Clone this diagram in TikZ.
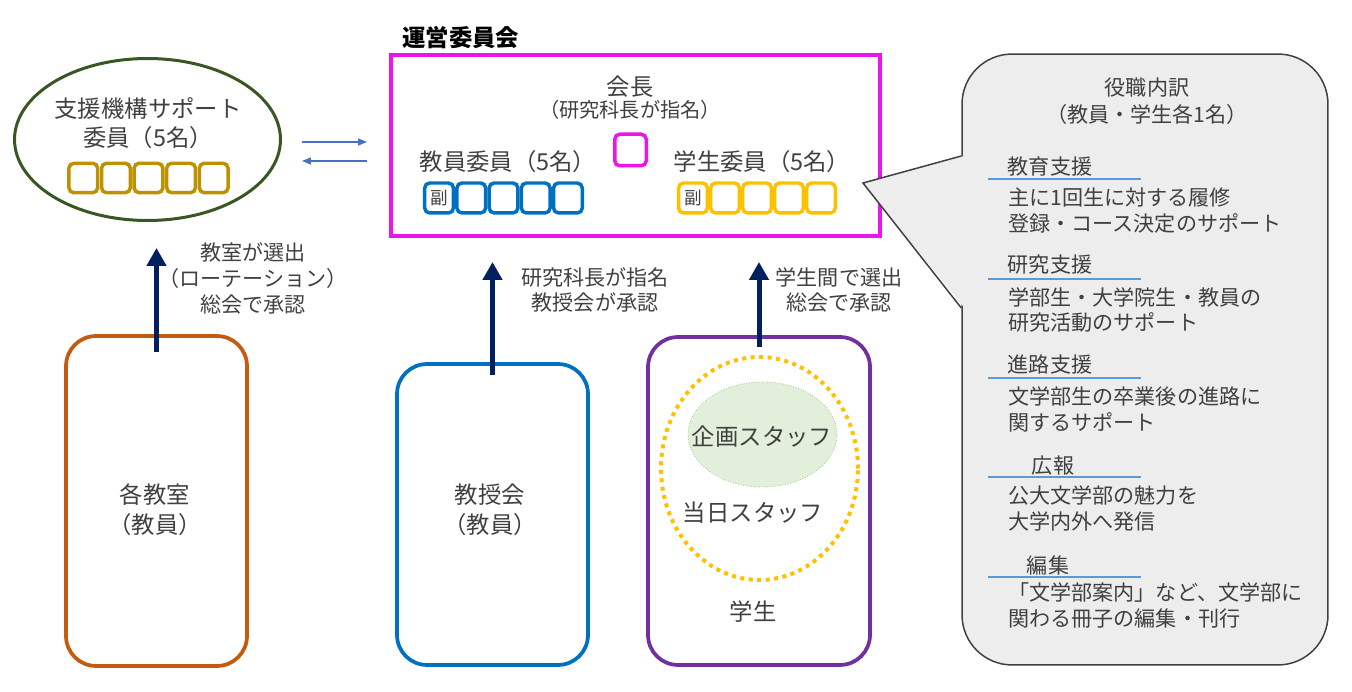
\documentclass[tikz,border=0pt]{standalone}
\usepackage{fontspec}
\setmainfont{Noto Sans CJK JP}
\usetikzlibrary{arrows.meta,shapes.geometric}

\definecolor{kanjigray}{HTML}{404040}
\definecolor{supportgreen}{RGB}{56,87,35}
\definecolor{goldbox}{HTML}{BF9000}
\definecolor{magentabox}{RGB}{235,20,235}
\definecolor{blueunit}{HTML}{0070C0}
\definecolor{yellowunit}{HTML}{FFC000}
\definecolor{orangeunit}{HTML}{C55A11}
\definecolor{purpleunit}{HTML}{7030A0}
\definecolor{navyarrow}{HTML}{002060}
\definecolor{linkblue}{HTML}{4472C4}
\definecolor{kikakufill}{HTML}{E2EFDA}
\definecolor{kikakuline}{HTML}{A9D08E}
\definecolor{calloutfill}{HTML}{EDEDED}
\definecolor{headblue}{HTML}{5B9BD5}

\newcommand{\szL}{\fontsize{13.3}{16.5}\selectfont}
\newcommand{\szM}{\fontsize{12}{14.4}\selectfont}
\newcommand{\szS}{\fontsize{11.5}{13.5}\selectfont}
\newcommand{\szT}{\fontsize{10}{12}\selectfont}

\begin{document}
\begin{tikzpicture}[x=0.02cm, y=-0.02cm,
		lbl/.style={text=kanjigray, inner sep=0pt, align=center},
		member/.style={draw=#1, line width=0.07cm, rounded corners=0.1cm, minimum width=0.575cm, minimum height=0.6cm, inner sep=0pt, text=kanjigray, font=\szT},
		unitbox/.style={draw=#1, line width=0.075cm, rounded corners=0.6cm, inner sep=0pt},
		uparrow/.style={draw=navyarrow, line width=0.1cm, -{Triangle[width=0.38cm,length=0.36cm]}},
		linkarrow/.style={draw=linkblue, line width=0.8pt, -{Triangle[width=0.14cm,length=0.18cm]}},
		headline/.style={draw=headblue, line width=0.04cm}]
		\useasboundingbox ( 0, 0 ) rectangle ( 1352, 692 );

		% 支援機構サポート委員
		\node [ellipse, draw=supportgreen, line width=0.06cm, minimum width=5.32cm, minimum height=3.24cm, inner sep=0pt] (support) at ( 147.5, 139.5 ) {};
		\node [lbl, font=\szL] (supporttext) at ( 148, 123.5 ) {支援機構サポート\\委員（5名）};
		\foreach \i in {0,...,4}
			\node [member=goldbox, minimum height=0.59cm] (sup\i) at ( 83.3+32.6*\i, 178 ) {};

		% 運営委員会
		\node [anchor=west, inner sep=0pt, font=\szL\bfseries] (uneititle) at ( 402, 38 ) {運営委員会};
		\node [draw=magentabox, line width=0.07cm, minimum width=9.79cm, minimum height=3.63cm, inner sep=0pt] (committee) at ( 635.5, 145.5 ) {};
		\node [lbl, font=\szL] (kaicho) at ( 630, 87 ) {会長};
		\node [lbl, font=\szS] (kaichosub) at ( 630, 110 ) {（研究科長が指名）};
		\node [member=magentabox, minimum width=0.63cm, minimum height=0.63cm] (chair) at ( 630.5, 150 ) {};
		\node [lbl, font=\szL] (kyoinlbl) at ( 508, 162 ) {教員委員（5名）};
		\node [lbl, font=\szL] (gakuseilbl) at ( 762, 162 ) {学生委員（5名）};
		\node [member=blueunit] (kyoin0) at ( 439.1, 198 ) {副};
		\foreach \i in {1,...,4}
			\node [member=blueunit] (kyoin\i) at ( 439.1+32.2*\i, 198 ) {};
		\node [member=yellowunit] (gakusei0) at ( 693, 198 ) {副};
		\foreach \i in {1,...,4}
			\node [member=yellowunit] (gakusei\i) at ( 693+32*\i, 198 ) {};

		% 相互連携
		\draw [linkarrow, shorten <=0.4cm, shorten >=0.44cm] ([yshift=-0.05cm]support.east) -- ([yshift=-0.05cm]support.east -| committee.west);
		\draw [linkarrow, shorten <=0.44cm, shorten >=0.4cm] ([yshift=-0.43cm]support.east -| committee.west) -- ([yshift=-0.43cm]support.east);

		% 役職内訳
		\node [draw=kanjigray, fill=calloutfill, line width=0.03cm, rounded corners=1cm, minimum width=7.32cm, minimum height=12.22cm, inner sep=0pt] (yakushoku) at ( 1145, 359.5 ) {};
		\coordinate (tip) at ( 863, 183 );
		\coordinate (pa) at ( 962, 156 );
		\coordinate (pb) at ( 962, 308 );
		\fill [calloutfill] ([xshift=0.06cm]yakushoku.west |- pa) -- (tip) -- ([xshift=0.06cm]yakushoku.west |- pb) -- cycle;
		\draw [kanjigray, line width=0.03cm] (yakushoku.west |- pa) -- (tip) -- (yakushoku.west |- pb);
		\node [lbl, font=\fontsize{12}{15.4}\selectfont] (yakushokutitle) at ( 1147, 101.5 ) {役職内訳\\（教員・学生各1名）};

		\node [lbl, font=\szM] (kyoiku) at ( 1050, 167 ) {教育支援};
		\draw [headline] ( 988, 179 ) -- ( 1141, 179 );
		\node [lbl, font=\szM, anchor=west, align=left] (kyoikubody) at ( 1008, 210.5 ) {主に1回生に対する履修\\登録・コース決定のサポート};

		\node [lbl, font=\szM] (kenkyu) at ( 1050, 265 ) {研究支援};
		\draw [headline] ( 988, 279 ) -- ( 1141, 279 );
		\node [lbl, font=\szM, anchor=west, align=left] (kenkyubody) at ( 1008, 310 ) {学部生・大学院生・教員の\\研究活動のサポート};

		\node [lbl, font=\szM] (shinro) at ( 1050, 365 ) {進路支援};
		\draw [headline] ( 988, 378 ) -- ( 1141, 378 );
		\node [lbl, font=\szM, anchor=west, align=left] (shinrobody) at ( 1008, 409.5 ) {文学部生の卒業後の進路に\\関するサポート};

		\node [lbl, font=\szM] (koho) at ( 1053, 466 ) {広報};
		\draw [headline] ( 988, 477 ) -- ( 1141, 477 );
		\node [lbl, font=\szM, anchor=west, align=left] (kohobody) at ( 1008, 508.5 ) {公大文学部の魅力を\\大学内外へ発信};

		\node [lbl, font=\szM] (henshu) at ( 1048, 565 ) {編集};
		\draw [headline] ( 988, 577 ) -- ( 1141, 577 );
		\node [lbl, font=\szM, anchor=west, align=left] (henshubody) at ( 1008, 605.5 ) {「文学部案内」など、文学部に\\関わる冊子の編集・刊行};

		% 各教室
		\node [unitbox=orangeunit, minimum width=3.62cm, minimum height=6.6cm] (kyoshitsu) at ( 156.5, 501 ) {};
		\node [lbl, font=\fontsize{13.3}{17}\selectfont] (kyoshitsutext) at ( 155, 510 ) {各教室\\（教員）};

		% 教授会
		\node [unitbox=blueunit, minimum width=3.82cm, minimum height=6.02cm] (kyojukai) at ( 492.5, 514.5 ) {};
		\node [lbl, font=\fontsize{13.3}{17}\selectfont] (kyojukaitext) at ( 490, 510 ) {教授会\\（教員）};

		% 学生
		\node [unitbox=purpleunit, minimum width=4.44cm, minimum height=6.56cm] (gakusei) at ( 759, 501 ) {};
		\node [ellipse, draw=yellowunit, line width=0.08cm, dash pattern=on 0.08cm off 0.09cm, minimum width=3.94cm, minimum height=4.46cm, inner sep=0pt] (tojitsu) at ( 759.5, 468.5 ) {};
		\node [ellipse, fill=kikakufill, draw=kikakuline, densely dotted, line width=0.5pt, minimum width=2.98cm, minimum height=2.1cm, inner sep=0pt] (kikaku) at ( 762.5, 434.5 ) {};
		\node [lbl, font=\szL] (kikakutext) at ( 762, 437 ) {企画スタッフ};
		\node [lbl, font=\szL] (tojitsutext) at ( 753, 513 ) {当日スタッフ};
		\node [lbl, font=\szL] (gakuseitext) at ( 753, 612 ) {学生};

		% 選出の矢印
		\coordinate (sentan1) at ( 156, 248 );
		\coordinate (sentan2) at ( 497, 262 );
		\coordinate (sentan3) at ( 757, 262 );
		\draw [uparrow] ([yshift=-0.36cm]kyoshitsu.north) -- (kyoshitsu.north |- sentan1);
		\draw [uparrow] ([yshift=-0.26cm]kyojukai.north) -- (kyojukai.north |- sentan2);
		\draw [uparrow] ([yshift=-0.24cm]gakusei.north) -- (gakusei.north |- sentan3);
		\node [lbl, font=\fontsize{12}{14.6}\selectfont] (senshutsu1) at ( 253, 278.5 ) {教室が選出\\（ローテーション）\\総会で承認};
		\node [lbl, font=\fontsize{12}{14.6}\selectfont] (senshutsu2) at ( 595, 290 ) {研究科長が指名\\教授会が承認};
		\node [lbl, font=\fontsize{12}{14.6}\selectfont] (senshutsu3) at ( 839, 290 ) {学生間で選出\\総会で承認};
	\end{tikzpicture}
\end{document}
